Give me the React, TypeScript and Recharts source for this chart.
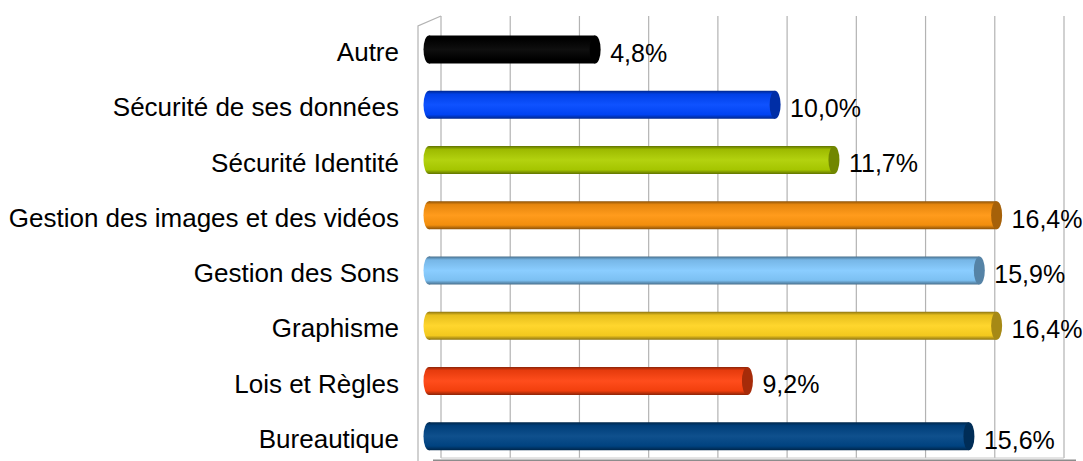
import React from "react";
import { BarChart, Bar, XAxis, YAxis, CartesianGrid, LabelList, ReferenceArea } from "recharts";

const categories = [
  "Autre",
  "Sécurité de ses données",
  "Sécurité Identité",
  "Gestion des images et des vidéos",
  "Gestion des Sons",
  "Graphisme",
  "Lois et Règles",
  "Bureautique",
];
const values = [4.8, 10.0, 11.7, 16.4, 15.9, 16.4, 9.2, 15.6];
const valueLabels = ["4,8%", "10,0%", "11,7%", "16,4%", "15,9%", "16,4%", "9,2%", "15,6%"];
const colors = ["#000000", "#0047ff", "#aecf00", "#ff950e", "#83caff", "#ffd320", "#ff420e", "#004586"];
const xTicks = [0, 2, 4, 6, 8, 10, 12, 14, 16, 18];

const data = categories.map((name, i) => ({ name, value: values[i], color: colors[i], label: valueLabels[i] }));

const FONT = "'Liberation Sans', Arial, sans-serif";
const DX = -12; // 3D front offset
const DY = 5.5;
const RX = 5.5;

function shade(hex: string, f: number) {
  const n = parseInt(hex.slice(1), 16);
  const r = (n >> 16) & 255, g = (n >> 8) & 255, b = n & 255;
  const m = (c: number) => Math.max(0, Math.min(255, Math.round(f < 0 ? c * (1 + f) : c + (255 - c) * f)));
  return `rgb(${m(r)},${m(g)},${m(b)})`;
}

const CylinderBar = (props: any) => {
  const { x, y, width, height, index } = props;
  const color = colors[index];
  const id = `cyl-${index}`;
  const x0 = x + DX;
  const x1 = x + width + DX;
  const top = y + DY;
  const cy = top + height / 2;
  return (
    <g>
      <defs>
        <linearGradient id={id} x1="0" y1="0" x2="0" y2="1">
          <stop offset="0" stopColor={shade(color, -0.45)} />
          <stop offset="0.12" stopColor={shade(color, -0.1)} />
          <stop offset="0.5" stopColor={shade(color, 0.06)} />
          <stop offset="0.85" stopColor={shade(color, -0.05)} />
          <stop offset="1" stopColor={shade(color, -0.45)} />
        </linearGradient>
      </defs>
      <ellipse cx={x0} cy={cy} rx={RX} ry={height / 2} fill={`url(#${id})`} />
      <rect x={x0} y={top} width={Math.max(0, x1 - x0)} height={height} fill={`url(#${id})`} />
      <ellipse cx={x1} cy={cy} rx={RX} ry={height / 2} fill={shade(color, -0.35)} />
    </g>
  );
};

const Walls = (props: any) => {
  const { x, y, width, height } = props;
  const bottom = y + height;
  return (
    <g>
      <path d={`M${x},${y} L${x - 23},${y + 10} L${x - 23},${bottom + 10}`} fill="none" stroke="#b3b3b3" strokeWidth={1.2} />
      <path d={`M${x - 8},${bottom + 3.5} L${x + width + 12},${bottom + 3.5}`} stroke="#8c8c8c" strokeWidth={4} />
      <path d={`M${x},${bottom} L${x + width},${bottom}`} stroke="#c8c8c8" strokeWidth={1} />
    </g>
  );
};

const CategoryTick = (props: any) => {
  const { y, payload } = props;
  return (
    <text x={399} y={y + 17.5} textAnchor="end" fontFamily={FONT} fontSize={26} fill="#000">
      {payload.value}
    </text>
  );
};

const ValueLabel = (props: any) => {
  const { x, y, width, height, index } = props;
  return (
    <text x={x + width + 3} y={y + height / 2 + 17.8} textAnchor="start" fontFamily={FONT} fontSize={25} fill="#000">
      {valueLabels[index]}
    </text>
  );
};

export default function App() {
  return (
    <div style={{ position: "absolute", left: 0, top: 0, width: 1083, height: 461, overflow: "hidden", background: "#fff" }}>
      <BarChart
        width={1083}
        height={461}
        data={data}
        layout="vertical"
        margin={{ top: 16, right: 19, bottom: 3, left: 0 }}
        barCategoryGap={0}
      >
        <CartesianGrid horizontal={false} vertical={true} stroke="#b3b3b3" strokeWidth={1.2} />
        <XAxis type="number" domain={[0, 18]} ticks={xTicks} hide />
        <YAxis
          type="category"
          dataKey="name"
          width={441}
          axisLine={false}
          tickLine={false}
          tick={<CategoryTick />}
          interval={0}
        />
        <ReferenceArea x1={0} x2={18} shape={<Walls />} fill="none" />
        <Bar dataKey="value" barSize={28} shape={<CylinderBar />} isAnimationActive={false}>
          <LabelList dataKey="label" content={<ValueLabel />} />
        </Bar>
      </BarChart>
    </div>
  );
}
